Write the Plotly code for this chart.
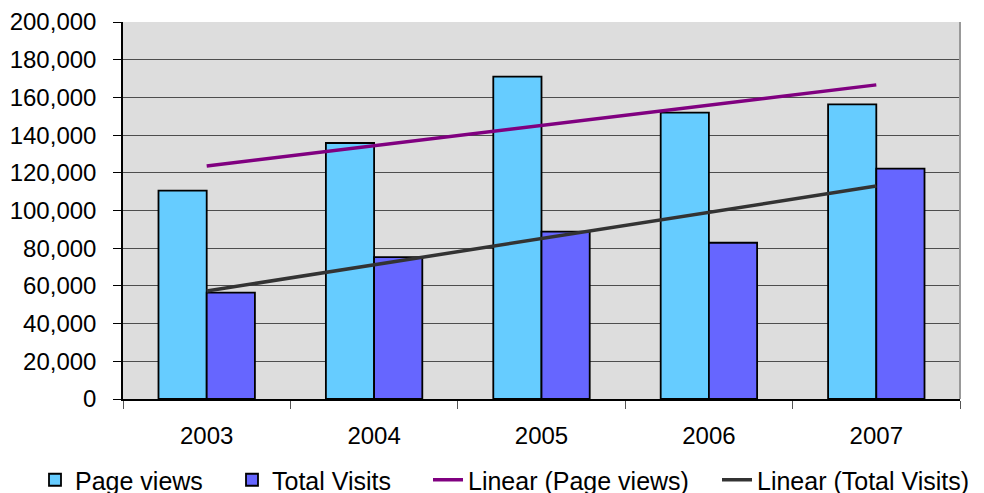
import numpy as np
import plotly.graph_objects as go

years = ["2003", "2004", "2005", "2006", "2007"]
page_views = [110500, 135800, 171000, 151900, 156300]
total_visits = [56400, 75300, 88750, 82900, 122200]
y_ticks = [0, 20000, 40000, 60000, 80000, 100000, 120000, 140000, 160000, 180000, 200000]

xi = np.arange(1, len(years) + 1)
pv_fit = np.polyval(np.polyfit(xi, page_views, 1), xi)
tv_fit = np.polyval(np.polyfit(xi, total_visits, 1), xi)

FONT = "Liberation Sans, Arial, sans-serif"

fig = go.Figure()
fig.add_trace(go.Bar(x=years, y=page_views, name="Page views", legend="legend",
                     marker=dict(color="#66CCFF", line=dict(color="#000000", width=1.8))))
fig.add_trace(go.Bar(x=years, y=total_visits, name="Total Visits", legend="legend2",
                     marker=dict(color="#6666FF", line=dict(color="#000000", width=1.8))))
fig.add_trace(go.Scatter(x=years, y=pv_fit, name="Linear (Page views)", mode="lines",
                         legend="legend3", line=dict(color="#800080", width=3.5)))
fig.add_trace(go.Scatter(x=years, y=tv_fit, name="Linear (Total Visits)", mode="lines",
                         legend="legend4", line=dict(color="#333333", width=3.5)))


def leg(xpx):
    return dict(orientation="h", x=xpx / 984, xref="container", xanchor="left",
                y=(493 - 480) / 493, yref="container", yanchor="middle",
                font=dict(family=FONT, size=25, color="#000000"), itemwidth=30,
                bgcolor="rgba(0,0,0,0)")


fig.update_layout(
    width=984, height=493,
    margin=dict(l=123, r=24, t=22, b=94, autoexpand=False),
    paper_bgcolor="white",
    plot_bgcolor="#DDDDDD",
    barmode="group",
    bargap=0.424,
    bargroupgap=0,
    font=dict(family=FONT, size=24, color="#000000"),
    showlegend=True,
    legend=leg(35),
    legend2=leg(232),
    legend3=leg(428),
    legend4=leg(717),
    xaxis=dict(type="category", showgrid=False, showline=True, linecolor="#000000",
               linewidth=1.5, ticks="outside", tickson="boundaries", ticklen=8,
               tickcolor="#555555", tickwidth=1, ticklabelstandoff=14,
               mirror=False, automargin=False),
    yaxis=dict(range=[0, 200000], tickvals=y_ticks, tickformat=",",
               showgrid=True, gridcolor="#4d4d4d", gridwidth=1.4,
               showline=True, linecolor="#000000", linewidth=1.5,
               ticks="outside", ticklen=8, tickcolor="#000000", tickwidth=1,
               ticklabelstandoff=12, zeroline=False, automargin=False),
)
# right border of plot area
fig.add_shape(type="line", xref="paper", yref="paper", x0=1, x1=1, y0=0, y1=1,
              line=dict(color="#999999", width=2))

fig.write_html("out.html", config={"displayModeBar": False},
               post_script="document.body.style.margin='0';document.body.style.overflow='hidden';")
